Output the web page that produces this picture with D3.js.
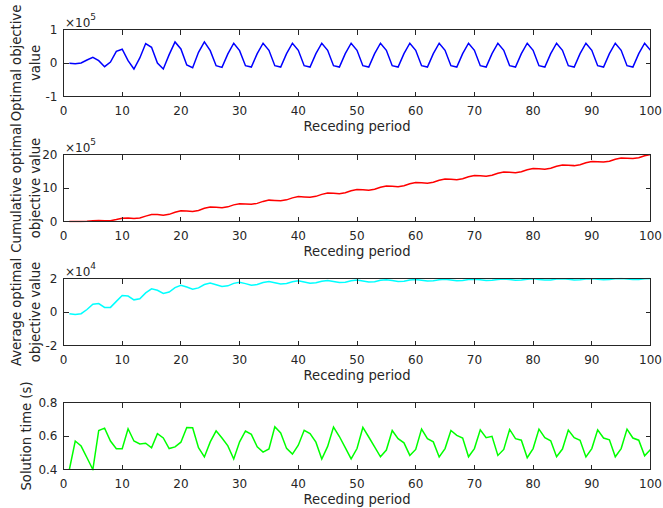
<!DOCTYPE html>
<html><head><meta charset="utf-8">
<script src="https://cdn.jsdelivr.net/npm/d3@7"></script>
<style>
html,body{margin:0;padding:0;background:#fff;}
svg{display:block;}
text{font-family:"DejaVu Sans",sans-serif;fill:#262626;}
</style></head>
<body>
<svg id="chart" width="663" height="508"></svg>
<script>
// ---------- data ----------
const periods = d3.range(1, 101);

// Optimal objective value (units of 1e5)
const optimalValue = [
 -0.01,-0.02,0.00,0.09,0.17,0.07,-0.11,0.03,0.35,0.41,
 0.07,-0.18,0.15,0.58,0.47,0.00,-0.18,0.25,0.63,0.42,
 -0.06,-0.14,0.32,0.63,0.37,-0.08,-0.13,0.27,0.59,0.37,
 -0.08,-0.12,0.28,0.59,0.38,-0.08,-0.12,0.28,0.59,0.38,
 -0.08,-0.12,0.28,0.59,0.38,-0.08,-0.12,0.28,0.59,0.38,
 -0.08,-0.12,0.28,0.59,0.38,-0.08,-0.12,0.28,0.59,0.38,
 -0.08,-0.12,0.28,0.59,0.38,-0.08,-0.12,0.28,0.59,0.38,
 -0.08,-0.12,0.28,0.59,0.38,-0.08,-0.12,0.28,0.59,0.38,
 -0.08,-0.12,0.28,0.59,0.38,-0.08,-0.12,0.28,0.59,0.38,
 -0.08,-0.12,0.28,0.59,0.38,-0.08,-0.12,0.28,0.59,0.38
];

// Cumulative optimal objective value (units of 1e5)
const cumulativeValue = [
 -0.01,-0.03,-0.03,0.06,0.23,0.30,0.19,0.22,0.57,0.98,
 1.05,0.87,1.02,1.60,2.07,2.07,1.89,2.14,2.77,3.19,
 3.13,2.99,3.31,3.94,4.31,4.23,4.10,4.37,4.96,5.33,
 5.25,5.13,5.41,6.00,6.38,6.30,6.18,6.46,7.05,7.43,
 7.35,7.23,7.51,8.10,8.48,8.40,8.28,8.56,9.15,9.53,
 9.45,9.33,9.61,10.20,10.58,10.50,10.38,10.66,11.25,11.63,
 11.55,11.43,11.71,12.30,12.68,12.60,12.48,12.76,13.35,13.73,
 13.65,13.53,13.81,14.40,14.78,14.70,14.58,14.86,15.45,15.83,
 15.75,15.63,15.91,16.50,16.88,16.80,16.68,16.96,17.55,17.93,
 17.85,17.73,18.01,18.60,18.98,18.90,18.78,19.06,19.65,20.03
];

// Average optimal objective value (units of 1e4)
const averageValue = [
 -0.10,-0.15,-0.10,0.15,0.46,0.50,0.27,0.275,0.633,0.98,
 0.955,0.725,0.785,1.143,1.38,1.294,1.112,1.189,1.458,1.595,
 1.49,1.359,1.439,1.642,1.724,1.627,1.519,1.561,1.71,1.777,
 1.694,1.603,1.639,1.765,1.823,1.75,1.67,1.70,1.808,1.858,
 1.793,1.721,1.747,1.841,1.884,1.826,1.762,1.783,1.867,1.906,
 1.853,1.794,1.813,1.889,1.924,1.875,1.821,1.838,1.907,1.938,
 1.893,1.844,1.859,1.922,1.951,1.909,1.863,1.876,1.935,1.961,
 1.923,1.879,1.892,1.946,1.971,1.934,1.894,1.905,1.956,1.979,
 1.944,1.906,1.917,1.964,1.986,1.953,1.917,1.927,1.972,1.992,
 1.962,1.927,1.937,1.979,1.998,1.969,1.936,1.945,1.985,2.003
];

// Solution time (s)
const solutionTime = [
 0.40,0.57,0.54,0.47,0.40,0.633,0.647,0.57,0.524,0.524,
 0.643,0.57,0.553,0.557,0.53,0.614,0.588,0.525,0.535,0.563,
 0.651,0.649,0.53,0.475,0.565,0.631,0.588,0.541,0.463,0.565,
 0.63,0.61,0.535,0.504,0.523,0.655,0.618,0.526,0.492,0.545,
 0.634,0.614,0.563,0.463,0.538,0.653,0.597,0.531,0.463,0.525,
 0.651,0.594,0.535,0.476,0.516,0.633,0.584,0.559,0.484,0.52,
 0.641,0.584,0.565,0.475,0.525,0.633,0.604,0.588,0.476,0.525,
 0.637,0.59,0.598,0.484,0.52,0.639,0.584,0.575,0.47,0.525,
 0.641,0.59,0.571,0.476,0.522,0.635,0.59,0.575,0.475,0.525,
 0.637,0.588,0.577,0.476,0.525,0.641,0.588,0.575,0.482,0.52
];

const xTicks = [0,10,20,30,40,50,60,70,80,90,100];
const xLabel = "Receding period";

const panels = [
  {values: optimalValue,    color: "#0000ff", domain: [-1, 1],    ticks: [-1, 0, 1],        tickFmt: d => String(d), exponent: "5", label: ["Optimal objective", "value"]},
  {values: cumulativeValue, color: "#ff0000", domain: [0, 20],    ticks: [0, 10, 20],       tickFmt: d => String(d), exponent: "5", label: ["Cumulative optimal", "objective value"]},
  {values: averageValue,    color: "#00ffff", domain: [-2, 2],    ticks: [-2, 0, 2],        tickFmt: d => String(d), exponent: "4", label: ["Average optimal", "objective value"]},
  {values: solutionTime,    color: "#00ff00", domain: [0.4, 0.8], ticks: [0.4, 0.6, 0.8],   tickFmt: d => d.toFixed(1), exponent: null, label: ["Solution time (s)"]}
];

// ---------- layout ----------
const svg = d3.select("#chart");
const left = 63.5, right = 650.5;
const tops = [29.5, 154.5, 278.5, 402.5];
const ph = 67;
const ink = "#262626";
const tickLen = 5;

const x = d3.scaleLinear().domain([0, 100]).range([left, right]);

panels.forEach((p, i) => {
  const top = tops[i], bottom = top + ph;
  const y = d3.scaleLinear().domain(p.domain).range([bottom, top]);
  const g = svg.append("g");

  const clipId = "clip" + i;
  svg.append("clipPath").attr("id", clipId).append("rect")
    .attr("x", left).attr("y", top - 1).attr("width", right - left).attr("height", ph + 2);

  // line
  const line = d3.line().x((d, j) => x(periods[j])).y(d => y(d));
  g.append("path").datum(p.values)
    .attr("clip-path", `url(#${clipId})`)
    .attr("fill", "none").attr("stroke", p.color).attr("stroke-width", 1.5)
    .attr("stroke-linejoin", "miter").attr("d", line);

  // box
  g.append("rect").attr("x", left).attr("y", top).attr("width", right - left).attr("height", ph)
    .attr("fill", "none").attr("stroke", ink).attr("stroke-width", 1)
    .attr("shape-rendering", "crispEdges");

  // x ticks (bottom & top, inward)
  xTicks.forEach(t => {
    const xx = Math.round(x(t) - 0.5) + 0.5;
    g.append("line").attr("x1", xx).attr("x2", xx).attr("y1", bottom).attr("y2", bottom - tickLen).attr("stroke", ink).attr("shape-rendering", "crispEdges");
    g.append("line").attr("x1", xx).attr("x2", xx).attr("y1", top).attr("y2", top + tickLen).attr("stroke", ink).attr("shape-rendering", "crispEdges");
    g.append("text").attr("x", x(t)).attr("y", bottom + 18.5).attr("text-anchor", "middle")
      .style("font-size", "12px").text(t);
  });
  // y ticks (left & right, inward)
  p.ticks.forEach(t => {
    const yy = Math.round(y(t) - 0.5) + 0.5;
    g.append("line").attr("x1", left).attr("x2", left + tickLen).attr("y1", yy).attr("y2", yy).attr("stroke", ink).attr("shape-rendering", "crispEdges");
    g.append("line").attr("x1", right).attr("x2", right - tickLen).attr("y1", yy).attr("y2", yy).attr("stroke", ink).attr("shape-rendering", "crispEdges");
    g.append("text").attr("x", left - 6).attr("y", y(t) + 4.3).attr("text-anchor", "end")
      .style("font-size", "12px").text(p.tickFmt(t));
  });

  // exponent
  if (p.exponent) {
    const e = g.append("text").attr("x", left + 1.5).attr("y", top - 3).style("font-size", "12px");
    e.append("tspan").text("\u00d710");
    e.append("tspan").attr("dy", -7).style("font-size", "9px").text(p.exponent);
  }

  // x label
  g.append("text").attr("x", (left + right) / 2).attr("y", bottom + 34.5)
    .attr("text-anchor", "middle").style("font-size", "13.2px").text(xLabel);

  // y label
  const cy = (top + bottom) / 2;
  const baseXs = p.label.length === 2 ? [21, 39.5] : [30.5];
  p.label.forEach((s, k) => {
    g.append("text").attr("transform", `translate(${baseXs[k]},${cy}) rotate(-90)`)
      .attr("text-anchor", "middle").style("font-size", "13.2px").text(s);
  });
});
</script>
</body></html>
